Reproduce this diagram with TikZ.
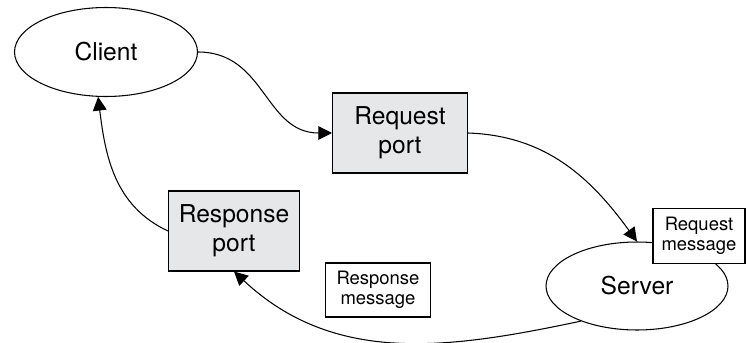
\documentclass[tikz,border=0pt]{standalone}
\usepackage{fontspec}
\setmainfont{TeX Gyre Heros}
\usepackage{xcolor}
\usetikzlibrary{arrows.meta,shapes.geometric}
\definecolor{portgray}{RGB}{230,231,232}
\tikzset{
    actornode/.style={ellipse, draw, line width=0.6pt, inner sep=0pt, minimum width=3.66cm, minimum height=1.78cm, font=\fontsize{14}{16.5}\selectfont},
    portnode/.style={rectangle, draw, line width=0.6pt, fill=portgray, align=center, inner sep=0pt, minimum height=1.6cm, font=\fontsize{14}{16.5}\selectfont},
    msgnode/.style={rectangle, draw, line width=0.6pt, fill=white, align=center, inner sep=0pt, font=\fontsize{10.5}{11.5}\selectfont},
    flowarrow/.style={-{Triangle[length=7.8pt,width=7.8pt]}, line width=0.6pt}
}
\begin{document}
\begin{tikzpicture}[x=0.02cm,y=0.02cm]
        \useasboundingbox (0,0) rectangle (746,342);
        \node[actornode] (client) at (106,290) {Client};
        \node[portnode, minimum width=2.7cm] (reqport) at (400,209) {Request\\port};
        \node[portnode, minimum width=2.62cm] (resport) at (234,111) {Response\\port};
        \node[actornode, minimum width=3.64cm, minimum height=1.76cm] (server) at (637,56) {Server};
        \node[msgnode, minimum width=1.84cm, minimum height=1.1cm] (reqmsg) at (699,106) {Request\\message};
        \node[msgnode, minimum width=2.1cm, minimum height=1.08cm] (resmsg) at (378,52) {Response\\message};

        \draw[flowarrow] (client.east) to[out=0, in=180, looseness=1.1] (reqport.west);
        \draw[flowarrow] (reqport.east) to[out=-2, in=126] (server.north);
        \draw[flowarrow] (server.212) to[out=192, in=-43, looseness=1.0] (resport.south);
        \draw[flowarrow] (resport.west) to[out=155, in=-83] (client.260);
    \end{tikzpicture}
\end{document}
